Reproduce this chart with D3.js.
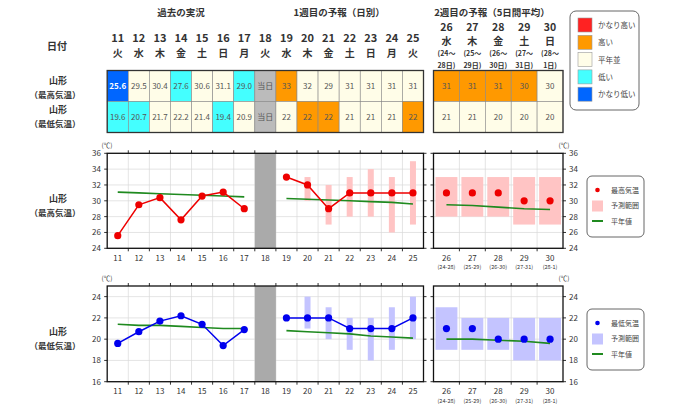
<!DOCTYPE html>
<html>
<head>
<meta charset="utf-8">
<script src="https://cdn.jsdelivr.net/npm/d3@7"></script>
<style>
body { margin: 0; background: #fff; }
text { font-family: "Noto Sans CJK JP", "Noto Sans", sans-serif; }
</style>
</head>
<body>
<script>
// ---- data ----
var days1 = [11, 12, 13, 14, 15, 16, 17, 18, 19, 20, 21, 22, 23, 24, 25];
var wd1 = ["火", "水", "木", "金", "土", "日", "月", "火", "水", "木", "金", "土", "日", "月", "火"];
var obsDays = [11, 12, 13, 14, 15, 16, 17];
var fcDays = [19, 20, 21, 22, 23, 24, 25];
var today = 18;
var days2 = [26, 27, 28, 29, 30];
var wd2 = ["水", "木", "金", "土", "日"];
var span2a = ["(24～", "(25～", "(26～", "(27～", "(28～"];
var span2b = ["28日)", "29日)", "30日)", "31日)", "1日)"];
var span2tick = ["(24-28)", "(25-29)", "(26-30)", "(27-31)", "(28-1)"];

var maxObs = [25.6, 29.5, 30.4, 27.6, 30.6, 31.1, 29.0];
var maxObsCls = ["vlow", "normal", "normal", "low", "normal", "normal", "low"];
var minObs = [19.6, 20.7, 21.7, 22.2, 21.4, 19.4, 20.9];
var minObsCls = ["low", "low", "normal", "normal", "normal", "low", "normal"];

var maxFc = [33, 32, 29, 31, 31, 31, 31];
var maxFcCls = ["high", "normal", "normal", "normal", "normal", "normal", "normal"];
var maxFcLo = [null, 30, 27, 28, 28, 26, 27];
var maxFcHi = [null, 33, 32, 33, 34, 33, 35];
var minFc = [22, 22, 22, 21, 21, 21, 22];
var minFcCls = ["normal", "high", "high", "normal", "normal", "normal", "high"];
var minFcLo = [null, 21, 20, 19, 18, 19, 20];
var minFcHi = [null, 24, 23, 22, 22, 23, 24];

var maxWk2 = [31, 31, 31, 30, 30];
var maxWk2Cls = ["high", "high", "high", "high", "normal"];
var maxWk2Lo = [28, 28, 28, 27, 27];
var maxWk2Hi = [33, 33, 33, 33, 33];
var minWk2 = [21, 21, 20, 20, 20];
var minWk2Cls = ["normal", "normal", "normal", "normal", "normal"];
var minWk2Lo = [19, 19, 19, 18, 18];
var minWk2Hi = [23, 22, 22, 22, 22];

var maxNormObs = [31.1, 31.0, 30.9, 30.8, 30.7, 30.6, 30.5];
var maxNormFc = [30.3, 30.2, 30.1, 30.0, 29.9, 29.8, 29.6];
var maxNormWk2 = [29.5, 29.4, 29.2, 29.0, 28.9];
var minNormObs = [21.4, 21.3, 21.3, 21.2, 21.1, 21.0, 21.0];
var minNormFc = [20.8, 20.7, 20.6, 20.5, 20.3, 20.2, 20.1];
var minNormWk2 = [20.0, 20.0, 19.9, 19.8, 19.6];

var classNames = ["vhigh", "high", "normal", "low", "vlow"];
var classLabels = ["かなり高い", "高い", "平年並", "低い", "かなり低い"];

// ---- styles ----
var clsColor = { vhigh: "#ff2222", high: "#ff9900", normal: "#fffde8", low: "#44ffff", vlow: "#0066ff", today: "#bbbbbb" };
var textDark = "#333";

var width = 680, height = 407;
var svg = d3.select("body").append("svg").attr("width", width).attr("height", height);

var x1 = d3.scaleBand().domain(days1).range([107.2, 423.5]);
var x2 = d3.scaleBand().domain(days2).range([433.5, 563]);

// ---- headers ----
var hdr = svg.append("g").attr("fill", textDark).attr("text-anchor", "middle");
hdr.append("text").attr("x", x1(14) + x1.bandwidth() / 2).attr("y", 16).attr("font-size", 9.5).attr("font-weight", "bold").text("過去の実況");
hdr.append("text").attr("x", x1(22)).attr("y", 16).attr("font-size", 9.5).attr("font-weight", "bold").text("1週目の予報（日別）");
hdr.append("text").attr("x", 492).attr("y", 16).attr("font-size", 9.5).attr("font-weight", "bold").text("2週目の予報（5日間平均）");

hdr.selectAll(".d1").data(days1).enter().append("text")
  .attr("x", function(d) { return x1(d) + x1.bandwidth() / 2 })
  .attr("y", 42).attr("font-size", 11).attr("font-weight", "bold").text(function(d) { return d });
hdr.selectAll(".w1").data(days1).enter().append("text")
  .attr("x", function(d) { return x1(d) + x1.bandwidth() / 2 })
  .attr("y", 57).attr("font-size", 10).attr("font-weight", "bold").text(function(d, i) { return wd1[i] });

hdr.selectAll(".d2").data(days2).enter().append("text")
  .attr("x", function(d) { return x2(d) + x2.bandwidth() / 2 })
  .attr("y", 31).attr("font-size", 10.5).attr("font-weight", "bold").text(function(d) { return d });
hdr.selectAll(".w2").data(days2).enter().append("text")
  .attr("x", function(d) { return x2(d) + x2.bandwidth() / 2 })
  .attr("y", 45).attr("font-size", 10).attr("font-weight", "bold").text(function(d, i) { return wd2[i] });
hdr.selectAll(".s2a").data(days2).enter().append("text")
  .attr("x", function(d) { return x2(d) + x2.bandwidth() / 2 })
  .attr("y", 56).attr("font-size", 7).attr("font-weight", "bold").text(function(d, i) { return span2a[i] });
hdr.selectAll(".s2b").data(days2).enter().append("text")
  .attr("x", function(d) { return x2(d) + x2.bandwidth() / 2 })
  .attr("y", 68).attr("font-size", 7).attr("font-weight", "bold").text(function(d, i) { return span2b[i] });

// left labels
var lab = svg.append("g").attr("fill", textDark).attr("text-anchor", "middle").attr("font-weight", "bold");
lab.append("text").attr("x", 57).attr("y", 50).attr("font-size", 10).text("日付");
function placeLabel(y, sub) {
  lab.append("text").attr("x", 58).attr("y", y).attr("font-size", 9).text("山形");
  lab.append("text").attr("x", 55).attr("y", y + 14).attr("font-size", 8.5).text(sub);
}
placeLabel(84, "（最高気温）");
placeLabel(113, "（最低気温）");
placeLabel(202, "（最高気温）");
placeLabel(335, "（最低気温）");

// ---- table ----
var rows = [
  { y: 70.5, vals: maxObs.map(function(v) { return v.toFixed(1) }).concat(["当日"]).concat(maxFc), cls: maxObsCls.concat(["today"]).concat(maxFcCls), vals2: maxWk2, cls2: maxWk2Cls },
  { y: 101.5, vals: minObs.map(function(v) { return v.toFixed(1) }).concat(["当日"]).concat(minFc), cls: minObsCls.concat(["today"]).concat(minFcCls), vals2: minWk2, cls2: minWk2Cls }
];
var rowH = 31;
var tbl = svg.append("g");
rows.forEach(function(r) {
  var cells1 = days1.map(function(d, i) { return { x: x1(d), w: x1.bandwidth(), v: r.vals[i], c: r.cls[i] } });
  var cells2 = days2.map(function(d, i) { return { x: x2(d), w: x2.bandwidth(), v: r.vals2[i], c: r.cls2[i] } });
  var cells = cells1.concat(cells2);
  tbl.selectAll(null).data(cells).enter().append("rect")
    .attr("x", function(d) { return d.x }).attr("y", r.y)
    .attr("width", function(d) { return d.w }).attr("height", rowH)
    .style("fill", function(d) { return clsColor[d.c] })
    .style("stroke", "#888").style("stroke-width", 0.6);
  tbl.selectAll(null).data(cells).enter().append("text")
    .attr("x", function(d) { return d.x + d.w / 2 }).attr("y", r.y + rowH / 2 + 3)
    .attr("text-anchor", "middle").attr("font-size", 8)
    .attr("font-weight", function(d) { return d.c == "vlow" ? "bold" : "normal" })
    .style("fill", function(d) { return d.c == "vlow" ? "#fff" : "#555" })
    .text(function(d) { return d.v });
});
// outer borders
tbl.append("rect").attr("x", x1.range()[0]).attr("y", 70.5).attr("width", x1.range()[1] - x1.range()[0]).attr("height", rowH * 2)
  .style("fill", "none").style("stroke", "#333").style("stroke-width", 1.3);
tbl.append("rect").attr("x", x2.range()[0]).attr("y", 70.5).attr("width", x2.range()[1] - x2.range()[0]).attr("height", rowH * 2)
  .style("fill", "none").style("stroke", "#333").style("stroke-width", 1.3);

// ---- top legend ----
var lg = svg.append("g");
lg.append("rect").attr("x", 570).attr("y", 11).attr("width", 69).attr("height", 99).attr("rx", 6)
  .style("fill", "#fff").style("stroke", "#666").style("stroke-width", 1);
lg.selectAll(null).data(classNames).enter().append("rect")
  .attr("x", 578).attr("y", function(d, i) { return 18 + i * 17.3 })
  .attr("width", 14).attr("height", 14)
  .style("fill", function(d) { return clsColor[d] }).style("stroke", "#999").style("stroke-width", 0.6);
lg.selectAll(null).data(classLabels).enter().append("text")
  .attr("x", 598).attr("y", function(d, i) { return 28 + i * 17.3 })
  .attr("font-size", 7.5).style("fill", "#444").text(function(d) { return d });

// ---- charts ----
function drawChart(cfg) {
  var y = cfg.y;
  var top = y.range()[1], bot = y.range()[0];
  var g = svg.append("g");
  var ticks = d3.range(y.domain()[0], y.domain()[1] + 0.1, 2);
  var bw1 = x1.bandwidth(), bw2 = x2.bandwidth();

  [x1, x2].forEach(function(x) {
    var x0 = x.range()[0], xe = x.range()[1];
    // grid
    g.selectAll(null).data(ticks).enter().append("line")
      .attr("x1", x0).attr("x2", xe).attr("y1", function(d) { return y(d) }).attr("y2", function(d) { return y(d) })
      .style("stroke", "#d8d8d8").style("stroke-width", 0.7);
    var bounds = x.domain().slice(1).map(function(d) { return x(d) });
    g.selectAll(null).data(bounds).enter().append("line")
      .attr("x1", function(d) { return d }).attr("x2", function(d) { return d }).attr("y1", top).attr("y2", bot)
      .style("stroke", "#d8d8d8").style("stroke-width", 0.7);
    // ticks
    g.selectAll(null).data(bounds).enter().append("line")
      .attr("x1", function(d) { return d }).attr("x2", function(d) { return d }).attr("y1", bot).attr("y2", bot + 3)
      .style("stroke", "#333");
    g.selectAll(null).data(bounds).enter().append("line")
      .attr("x1", function(d) { return d }).attr("x2", function(d) { return d }).attr("y1", top - 3).attr("y2", top)
      .style("stroke", "#333");
    g.selectAll(null).data(ticks).enter().append("line")
      .attr("x1", x0 - 3).attr("x2", x0).attr("y1", function(d) { return y(d) }).attr("y2", function(d) { return y(d) })
      .style("stroke", "#333");
    g.selectAll(null).data(ticks).enter().append("line")
      .attr("x1", xe).attr("x2", xe + 3).attr("y1", function(d) { return y(d) }).attr("y2", function(d) { return y(d) })
      .style("stroke", "#333");
  });

  // today band
  g.append("rect").attr("x", x1(today)).attr("y", top).attr("width", bw1).attr("height", bot - top).style("fill", "#aaaaaa");

  // ranges
  var rng1 = fcDays.map(function(d, i) { return { d: d, lo: cfg.fcLo[i], hi: cfg.fcHi[i] } }).filter(function(r) { return r.lo != null });
  g.selectAll(null).data(rng1).enter().append("rect")
    .attr("x", function(r) { return x1(r.d) + bw1 / 2 - 3 }).attr("width", 6)
    .attr("y", function(r) { return y(r.hi) }).attr("height", function(r) { return y(r.lo) - y(r.hi) })
    .style("fill", cfg.rangeColor);
  var rng2 = days2.map(function(d, i) { return { d: d, lo: cfg.wk2Lo[i], hi: cfg.wk2Hi[i] } });
  g.selectAll(null).data(rng2).enter().append("rect")
    .attr("x", function(r) { return x2(r.d) + 2 }).attr("width", bw2 - 4)
    .attr("y", function(r) { return y(r.hi) }).attr("height", function(r) { return y(r.lo) - y(r.hi) })
    .style("fill", cfg.rangeColor);

  // normals
  var line1 = d3.line().x(function(p) { return x1(p[0]) + bw1 / 2 }).y(function(p) { return y(p[1]) });
  var line2 = d3.line().x(function(p) { return x2(p[0]) + bw2 / 2 }).y(function(p) { return y(p[1]) });
  var nrm = [
    { f: line1, pts: d3.zip(obsDays, cfg.normObs) },
    { f: line1, pts: d3.zip(fcDays, cfg.normFc) },
    { f: line2, pts: d3.zip(days2, cfg.normWk2) }
  ];
  nrm.forEach(function(n) {
    g.append("path").attr("d", n.f(n.pts)).style("fill", "none").style("stroke", "#1f8a1f").style("stroke-width", 1.6);
  });

  // obs & forecast lines
  [d3.zip(obsDays, cfg.obs), d3.zip(fcDays, cfg.fc)].forEach(function(pts) {
    g.append("path").attr("d", line1(pts)).style("fill", "none").style("stroke", cfg.color).style("stroke-width", 1.5);
    g.selectAll(null).data(pts).enter().append("circle")
      .attr("cx", function(p) { return x1(p[0]) + bw1 / 2 }).attr("cy", function(p) { return y(p[1]) })
      .attr("r", 3.6).style("fill", cfg.color);
  });
  g.selectAll(null).data(d3.zip(days2, cfg.wk2)).enter().append("circle")
    .attr("cx", function(p) { return x2(p[0]) + bw2 / 2 }).attr("cy", function(p) { return y(p[1]) })
    .attr("r", 3.6).style("fill", cfg.color);

  // frames
  [x1, x2].forEach(function(x) {
    g.append("rect").attr("x", x.range()[0]).attr("y", top).attr("width", x.range()[1] - x.range()[0]).attr("height", bot - top)
      .style("fill", "none").style("stroke", "#111").style("stroke-width", 1.3);
  });

  // labels
  var tl = g.append("g").attr("font-size", 8).style("fill", "#333");
  tl.selectAll(null).data(ticks).enter().append("text")
    .attr("x", 101).attr("y", function(d) { return y(d) + 3 }).attr("text-anchor", "end").text(function(d) { return d });
  tl.selectAll(null).data(ticks).enter().append("text")
    .attr("x", 569).attr("y", function(d) { return y(d) + 3 }).text(function(d) { return d });
  tl.selectAll(null).data(days1).enter().append("text")
    .attr("x", function(d) { return x1(d) + bw1 / 2 }).attr("y", bot + 12.5).attr("text-anchor", "middle").text(function(d) { return d });
  tl.selectAll(null).data(days2).enter().append("text")
    .attr("x", function(d) { return x2(d) + bw2 / 2 }).attr("y", bot + 12.5).attr("text-anchor", "middle").text(function(d) { return d });
  tl.selectAll(null).data(days2).enter().append("text")
    .attr("x", function(d) { return x2(d) + bw2 / 2 }).attr("y", bot + 21).attr("text-anchor", "middle").attr("font-size", 5.5)
    .text(function(d, i) { return span2tick[i] });
  tl.append("text").attr("x", 107).attr("y", top - 5).attr("text-anchor", "middle").attr("font-size", 6.5).text("(℃)");
  tl.append("text").attr("x", 564).attr("y", top - 5).attr("text-anchor", "middle").attr("font-size", 6.5).text("(℃)");

  // legend
  var L = g.append("g").attr("transform", "translate(587," + cfg.legendY + ")");
  L.append("rect").attr("width", 57).attr("height", 61).attr("rx", 5).style("fill", "#fff").style("stroke", "#666");
  L.append("circle").attr("cx", 10.5).attr("cy", 14).attr("r", 2.3).style("fill", cfg.color);
  L.append("rect").attr("x", 5).attr("y", 24.5).attr("width", 11).attr("height", 11).style("fill", cfg.rangeColor);
  L.append("line").attr("x1", 5).attr("x2", 16).attr("y1", 45).attr("y2", 45).style("stroke", "#1f8a1f").style("stroke-width", 2);
  var lt = [cfg.name, "予測範囲", "平年値"];
  L.selectAll(null).data(lt).enter().append("text").attr("x", 24).attr("y", function(d, i) { return 16.5 + i * 15.5 })
    .attr("font-size", 7).style("fill", "#444").text(function(d) { return d });
}

drawChart({
  y: d3.scaleLinear().domain([24, 36]).range([248.3, 153.3]),
  obs: maxObs, fc: maxFc, fcLo: maxFcLo, fcHi: maxFcHi,
  wk2: maxWk2, wk2Lo: maxWk2Lo, wk2Hi: maxWk2Hi,
  normObs: maxNormObs, normFc: maxNormFc, normWk2: maxNormWk2,
  color: "#ee0000", rangeColor: "#ffc4c4", name: "最高気温", legendY: 176
});
drawChart({
  y: d3.scaleLinear().domain([16, 25]).range([381.7, 286]),
  obs: minObs, fc: minFc, fcLo: minFcLo, fcHi: minFcHi,
  wk2: minWk2, wk2Lo: minWk2Lo, wk2Hi: minWk2Hi,
  normObs: minNormObs, normFc: minNormFc, normWk2: minNormWk2,
  color: "#0000ee", rangeColor: "#c4c4ff", name: "最低気温", legendY: 309
});
</script>
</body>
</html>
